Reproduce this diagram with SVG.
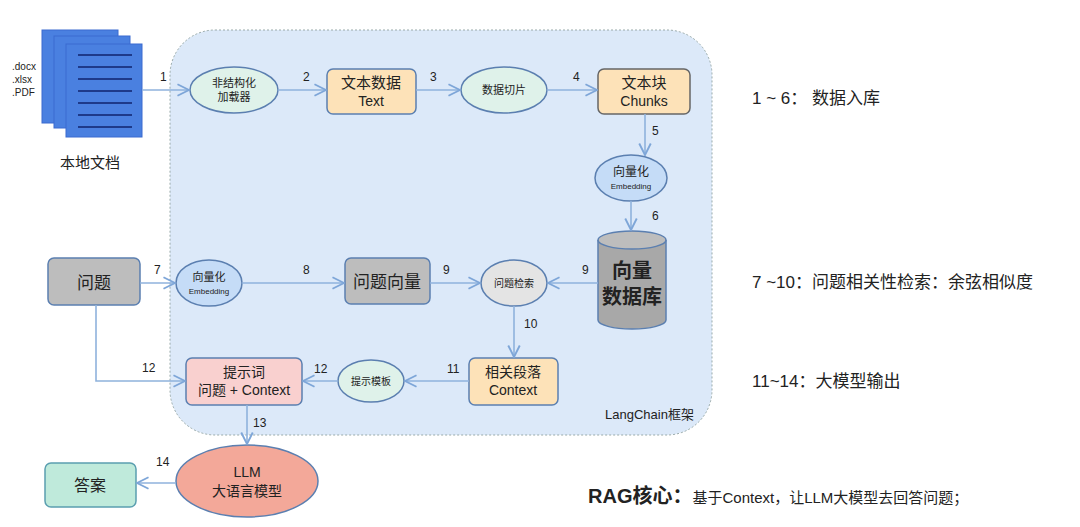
<svg xmlns="http://www.w3.org/2000/svg" width="1080" height="527" viewBox="0 0 1080 527">
<defs>
<marker id="ar" viewBox="0 0 10 10" refX="9" refY="5" markerWidth="9" markerHeight="9" orient="auto"><path d="M1,1 L9,5 L1,9" fill="none" stroke="#7ea6d8" stroke-width="1.3"/></marker>
<style>
text{font-family:"Liberation Sans","Noto Sans CJK SC",sans-serif;fill:#222}
.c{text-anchor:middle}
.n{font-size:12px}
.e{stroke:#5b7fb0;stroke-width:1.5}
.ln{stroke:#8fb2dc;stroke-width:1.6;fill:none}
.dl{stroke:#1e3a8a;stroke-width:2}
.doc{fill:#4a80e0;stroke:#3a6ad0}
</style>
</defs>
<rect x="170" y="30" width="542" height="405" rx="45" fill="#dce9f9" stroke="#9aa" stroke-dasharray="2 2"/>
<text x="605" y="419" font-size="13">LangChain框架</text>
<g id="docs">
<rect class="doc" x="42" y="30" width="76" height="93"/>
<rect class="doc" x="54" y="36" width="76" height="92"/>
<rect class="doc" x="66" y="44" width="76" height="93"/>
<g class="dl"><line x1="78" y1="55" x2="132" y2="55"/><line x1="78" y1="67" x2="132" y2="67"/><line x1="78" y1="79" x2="132" y2="79"/><line x1="78" y1="91" x2="132" y2="91"/><line x1="78" y1="103" x2="132" y2="103"/><line x1="78" y1="115" x2="132" y2="115"/><line x1="78" y1="127" x2="132" y2="127"/></g>
<text x="12" y="70" font-size="10">.docx</text><text x="12" y="83" font-size="10">.xlsx</text><text x="12" y="96" font-size="10">.PDF</text>
<text x="90" y="168" class="c" font-size="15">本地文档</text>
</g>
<g id="loader"><ellipse cx="234" cy="90" rx="44" ry="23" fill="#dff2ea" class="e"/><text x="234" y="87" class="c" font-size="11">非结构化</text><text x="234" y="101" class="c" font-size="11">加载器</text></g>
<g id="text"><rect x="327" y="69" width="89" height="45" rx="6" fill="#fde2b8" class="e" stroke="#666"/><text x="371" y="88" class="c" font-size="15">文本数据</text><text x="371" y="106" class="c" font-size="14">Text</text></g>
<g id="split"><ellipse cx="504" cy="90" rx="43" ry="23" fill="#dff2ea" class="e"/><text x="504" y="94" class="c" font-size="11">数据切片</text></g>
<g id="chunks"><rect x="598" y="69" width="92" height="45" rx="6" fill="#fde2b8" stroke="#666" stroke-width="1.5"/><text x="644" y="88" class="c" font-size="15">文本块</text><text x="644" y="106" class="c" font-size="14">Chunks</text></g>
<g id="emb1"><ellipse cx="631" cy="178" rx="36" ry="23" fill="#c5dcf7" class="e"/><text x="631" y="176" class="c" font-size="12">向量化</text><text x="631" y="189" class="c" font-size="8">Embedding</text></g>
<g id="db"><path d="M598,240 V320 A34,9 0 0 0 666,320 V240" fill="#a8a8a8" stroke="#5b7fb0" stroke-width="1.5"/><ellipse cx="632" cy="240" rx="34" ry="9" fill="#bdbdbd" stroke="#5b7fb0" stroke-width="1.5"/><text x="632" y="278" class="c" font-size="20" font-weight="bold">向量</text><text x="632" y="304" class="c" font-size="20" font-weight="bold">数据库</text></g>
<g id="q"><rect x="48" y="258" width="92" height="47" rx="6" fill="#bdbdbd" stroke="#5b7fb0" stroke-width="1.5"/><text x="94" y="289" class="c" font-size="17">问题</text></g>
<g id="emb2"><ellipse cx="209" cy="283" rx="33" ry="23" fill="#c5dcf7" class="e"/><text x="209" y="281" class="c" font-size="11">向量化</text><text x="209" y="294" class="c" font-size="8">Embedding</text></g>
<g id="qv"><rect x="345" y="258" width="85" height="46" rx="6" fill="#bdbdbd" stroke="#5b7fb0" stroke-width="1.5"/><text x="387" y="288" class="c" font-size="17">问题向量</text></g>
<g id="search"><ellipse cx="514" cy="283" rx="33" ry="23" fill="#e4e4e4" class="e"/><text x="514" y="287" class="c" font-size="10">问题检索</text></g>
<g id="ctx"><rect x="469" y="358" width="89" height="47" rx="6" fill="#fde2b8" stroke="#5b7fb0" stroke-width="1.5"/><text x="513" y="377" class="c" font-size="14">相关段落</text><text x="513" y="395" class="c" font-size="14">Context</text></g>
<g id="tpl"><ellipse cx="371" cy="381" rx="33" ry="21" fill="#dff2ea" class="e"/><text x="371" y="385" class="c" font-size="10">提示模板</text></g>
<g id="prompt"><rect x="186" y="358" width="116" height="47" rx="6" fill="#f9d0cf" stroke="#5b7fb0" stroke-width="1.5"/><text x="244" y="377" class="c" font-size="14">提示词</text><text x="244" y="395" class="c" font-size="14">问题 + Context</text></g>
<g id="llm"><ellipse cx="247" cy="481" rx="71" ry="36" fill="#f3a899" class="e"/><text x="247" y="477" class="c" font-size="14">LLM</text><text x="247" y="496" class="c" font-size="14">大语言模型</text></g>
<g id="ans"><rect x="45" y="463" width="91" height="44" rx="6" fill="#bfeadb" stroke="#5b9fb0" stroke-width="1.5"/><text x="90" y="491" class="c" font-size="16">答案</text></g>
<g id="connectors">
<line class="ln" x1="142" y1="90" x2="189" y2="90" marker-end="url(#ar)"/>
<line class="ln" x1="278" y1="90" x2="326" y2="90" marker-end="url(#ar)"/>
<line class="ln" x1="416" y1="90" x2="460" y2="90" marker-end="url(#ar)"/>
<line class="ln" x1="547" y1="90" x2="597" y2="90" marker-end="url(#ar)"/>
<line class="ln" x1="645" y1="114" x2="645" y2="155" marker-end="url(#ar)"/>
<line class="ln" x1="631" y1="201" x2="631" y2="230" marker-end="url(#ar)"/>
<line class="ln" x1="140" y1="283" x2="175" y2="283" marker-end="url(#ar)"/>
<line class="ln" x1="242" y1="283" x2="344" y2="283" marker-end="url(#ar)"/>
<line class="ln" x1="430" y1="283" x2="480" y2="283" marker-end="url(#ar)"/>
<line class="ln" x1="598" y1="283" x2="548" y2="283" marker-end="url(#ar)"/>
<line class="ln" x1="514" y1="306" x2="514" y2="357" marker-end="url(#ar)"/>
<line class="ln" x1="469" y1="381" x2="405" y2="381" marker-end="url(#ar)"/>
<line class="ln" x1="338" y1="381" x2="303" y2="381" marker-end="url(#ar)"/>
<polyline class="ln" points="96,305 96,381 185,381" marker-end="url(#ar)"/>
<line class="ln" x1="247" y1="405" x2="247" y2="444" marker-end="url(#ar)"/>
<line class="ln" x1="176" y1="483" x2="137" y2="483" marker-end="url(#ar)"/>
<text x="160" y="81" class="n">1</text><text x="303" y="81" class="n">2</text><text x="430" y="81" class="n">3</text><text x="573" y="81" class="n">4</text>
<text x="652" y="135" class="n">5</text><text x="652" y="220" class="n">6</text>
<text x="154" y="274" class="n">7</text><text x="303" y="274" class="n">8</text><text x="443" y="274" class="n">9</text><text x="582" y="274" class="n">9</text>
<text x="524" y="328" class="n">10</text><text x="447" y="373" class="n">11</text><text x="314" y="373" class="n">12</text><text x="142" y="372" class="n">12</text>
<text x="253" y="427" class="n">13</text><text x="156" y="466" class="n">14</text>
</g>
<text x="752" y="104" font-size="17">1 ~ 6： 数据入库</text>
<text x="752" y="288" font-size="17">7 ~10：问题相关性检索：余弦相似度</text>
<text x="752" y="387" font-size="17">11~14：大模型输出</text>
<text x="588" y="503" font-size="20" font-weight="bold">RAG核心：<tspan font-size="15" font-weight="normal">基于Context，让LLM大模型去回答问题；</tspan></text>
</svg>
